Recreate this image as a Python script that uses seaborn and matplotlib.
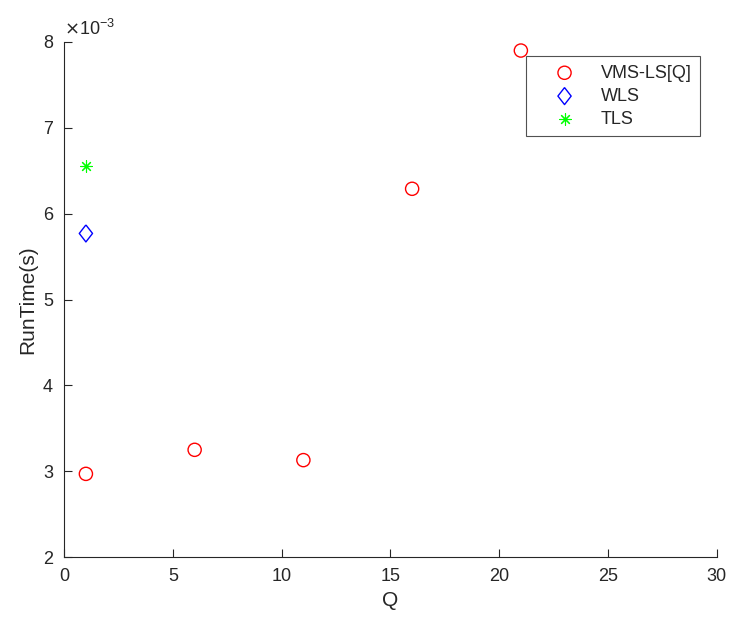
import pandas as pd
import numpy as np
import matplotlib
matplotlib.use("Agg")
import matplotlib.pyplot as plt
import seaborn as sns

vms_q = [1, 6, 11, 16, 21]
vms_time = [2.97e-3, 3.25e-3, 3.13e-3, 6.29e-3, 7.90e-3]
wls_q = [1]
wls_time = [5.77e-3]
tls_q = [1]
tls_time = [6.56e-3]
labels = ['VMS-LS[Q]', 'WLS', 'TLS']

df = pd.DataFrame({
    'Q': vms_q + wls_q + tls_q,
    'RunTime': vms_time + wls_time + tls_time,
    'Method': [labels[0]] * len(vms_q) + [labels[1]] * len(wls_q) + [labels[2]] * len(tls_q),
})
df['y'] = df['RunTime'] * 1e3

sns.set_style('white')
plt.rcParams['font.family'] = ['Liberation Sans', 'DejaVu Sans']
plt.rcParams['xtick.direction'] = 'in'
plt.rcParams['ytick.direction'] = 'in'

fig = plt.figure(figsize=(7.29, 6.17), dpi=100)
ax = fig.add_axes([0.088, 0.097, 0.895, 0.835])

diamond = [(0, 1), (0.78, 0), (0, -1), (-0.78, 0), (0, 1)]
palette = {'VMS-LS[Q]': '#ff0000', 'WLS': '#0000ff', 'TLS': '#00ff00'}
markers = {'VMS-LS[Q]': 'o', 'WLS': diamond, 'TLS': (8, 2, 0)}
sizes = {'VMS-LS[Q]': 90, 'WLS': 150, 'TLS': 70}
for m in labels:
    sub = df[df['Method'] == m]
    if m == 'TLS':
        sns.scatterplot(data=sub, x='Q', y='y', color=palette[m], marker=markers[m],
                        s=sizes[m], linewidth=0.8, ax=ax, label=m)
    else:
        sns.scatterplot(data=sub, x='Q', y='y', marker=markers[m], s=sizes[m],
                        facecolor='none', edgecolor=palette[m], linewidth=1.0, ax=ax, label=m)

ax.set_xlim(0, 30)
ax.set_ylim(2, 8)
ax.set_xticks(range(0, 31, 5))
ax.set_yticks(range(2, 9))
ax.tick_params(bottom=True, left=True, labelsize=13, colors='#262626', length=6, width=0.8, pad=8)
for s in ['top', 'right']:
    ax.spines[s].set_visible(False)
for s in ['left', 'bottom']:
    ax.spines[s].set_color('#262626')
    ax.spines[s].set_linewidth(0.8)
ax.set_xlabel('Q', fontsize=15, color='#262626')
ax.set_ylabel('RunTime(s)', fontsize=15, color='#262626')
ax.text(0.0, 1.005, r'$\times$10$^{\mathregular{-3}}$', transform=ax.transAxes,
        fontsize=13, color='#262626', va='bottom', ha='left')

leg = ax.legend(loc='upper right', bbox_to_anchor=(0.974, 0.972), fontsize=13,
                frameon=True, fancybox=False, edgecolor='#262626',
                handlelength=3.4, handletextpad=0.3, borderpad=0.45,
                labelspacing=0.35, borderaxespad=0)
leg.get_frame().set_linewidth(0.8)

fig.savefig('out.png', dpi=100)
